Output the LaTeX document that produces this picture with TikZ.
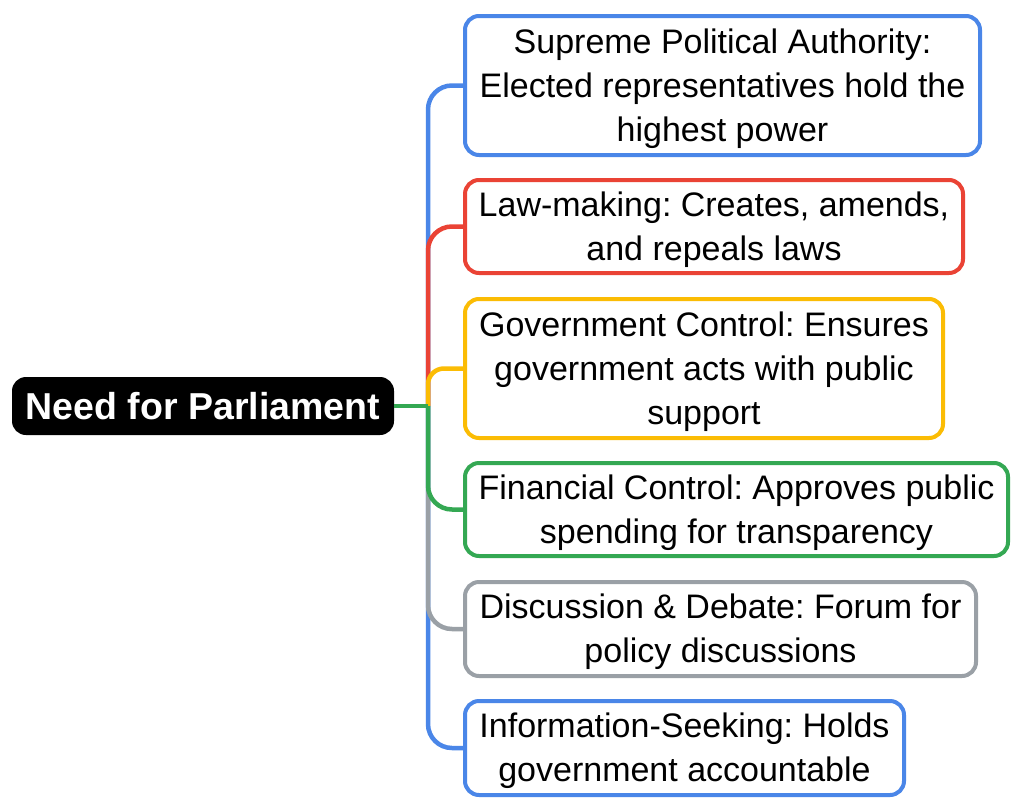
\documentclass[tikz,border=0pt]{standalone}
\usepackage{fontspec}
\setmainfont{Liberation Sans}
\definecolor{cblue}{HTML}{4A86E8}
\definecolor{cred}{HTML}{EA4335}
\definecolor{cyellow}{HTML}{FBBC04}
\definecolor{cgreen}{HTML}{34A853}
\definecolor{cgray}{HTML}{9AA0A6}
\newcommand{\tstr}{\rule{0pt}{31pt}}
\frenchspacing
\begin{document}
\begin{tikzpicture}[x=1pt,y=-1pt,
  leaf/.style={draw, line width=4pt, rounded corners=14pt, fill=white, align=center,
    font=\fontsize{34}{44}\selectfont\frenchspacing, inner sep=0pt, text=black},
  rootbox/.style={fill=black, rounded corners=14pt, align=center, inner sep=0pt,
    font=\fontsize{37.5}{44}\selectfont\bfseries, text=white},
  conn/.style={line width=4.5pt, rounded corners=24pt}]
\useasboundingbox (0,0) rectangle (1024,811);
\fill[white] (0,0) rectangle (1024,811);
\node[rootbox, minimum width=382pt, minimum height=58pt] (root) at (203,406) {Need for Parliament};
\coordinate (j) at (428,406);
\node[leaf, draw=cblue, minimum width=515pt, minimum height=139pt] (n1) at (722.5,85.5)
  {\tstr Supreme Political Authority:\\Elected representatives hold the\\highest power};
\node[leaf, draw=cred, minimum width=498pt, minimum height=93pt] (n2) at (714,226.5)
  {\tstr Law-making: Creates, amends,\\and repeals laws};
\node[leaf, draw=cyellow, minimum width=478pt, minimum height=139pt] (n3) at (704,368.5)
  {\tstr Government Control: Ensures\\government acts with public\\support};
\node[leaf, draw=cgreen, minimum width=543pt, minimum height=93pt] (n4) at (736.5,509.5)
  {\tstr Financial Control: Approves public\\spending for transparency};
\node[leaf, draw=cgray, minimum width=511pt, minimum height=94pt] (n5) at (720.5,629)
  {\tstr Discussion \& Debate: Forum for\\policy discussions};
\node[leaf, draw=cblue, minimum width=439pt, minimum height=94pt] (n6) at (684.5,748)
  {\tstr Information-Seeking: Holds\\government accountable};
\draw[conn, cblue] (j) |- (n1.west);
\draw[conn, cred] (j) |- (n2.west);
\draw[conn, cyellow, rounded corners=16pt] (j) |- (n3.west);
\draw[conn, cblue] (j) |- (n6.west);
\draw[conn, cgray] (j) |- (n5.west);
\draw[conn, cgreen] (j) |- (n4.west);
\draw[line width=4.5pt, cgreen] (root.east) -- (j);
\end{tikzpicture}
\end{document}
